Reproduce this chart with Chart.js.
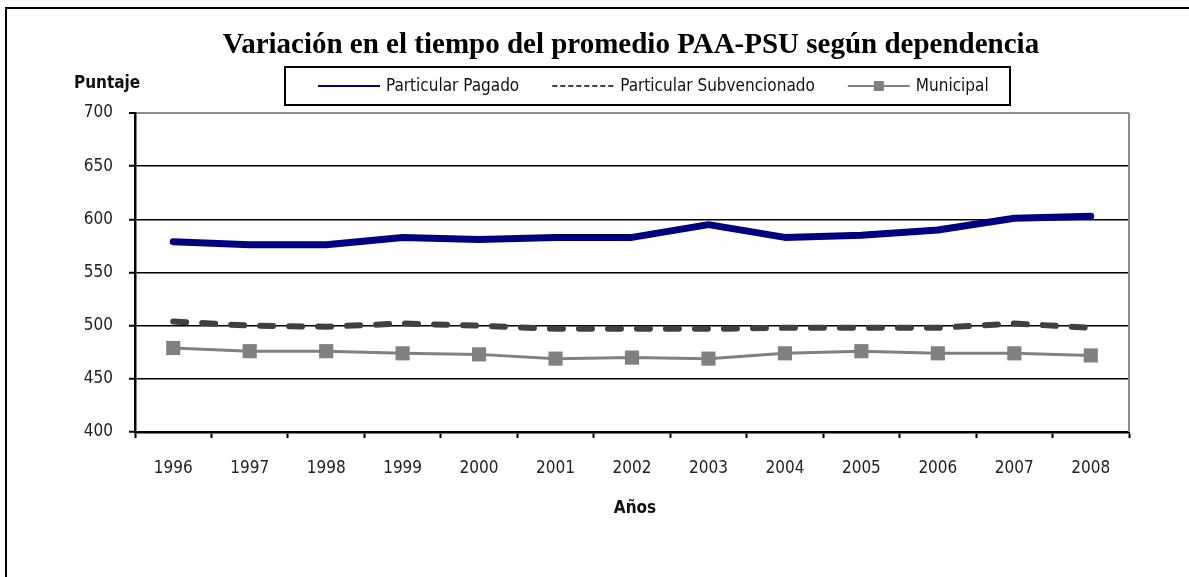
<!DOCTYPE html>
<html lang="es">
<head>
<meta charset="UTF-8" />
<title>Variación en el tiempo del promedio PAA-PSU según dependencia</title>
<script src="https://cdn.jsdelivr.net/npm/chart.js"></script>
<style>
    body { margin: 0; background: #fff; }
    #wrap { width: 1189px; height: 577px; position: relative; }
</style>
</head>
<body>
<div id="wrap"><canvas id="grafico"></canvas></div>
<script>
    // datos
    const anios = ['1996', '1997', '1998', '1999', '2000', '2001', '2002', '2003', '2004', '2005', '2006', '2007', '2008'];
    const particularPagado = [579, 576, 576, 583, 581, 583, 583, 595, 583, 585, 590, 601, 603];
    const particularSubvencionado = [504, 500, 499, 502, 500, 497, 497, 497, 498, 498, 498, 502, 498];
    const municipal = [479, 476, 476, 474, 473, 469, 470, 469, 474, 476, 474, 474, 472];
    const ticksY = [400, 450, 500, 550, 600, 650, 700];

    const titulo = 'Variación en el tiempo del promedio PAA-PSU según dependencia';
    const fuenteNarrow = '"Liberation Sans Narrow", "DejaVu Sans Condensed", "Arial Narrow", sans-serif';

    const decoracion = {
        id: 'decoracion',
        beforeDraw(chart) {
            const ctx = chart.ctx;
            ctx.save();
            ctx.fillStyle = '#fff';
            ctx.fillRect(0, 0, chart.width, chart.height);
            ctx.strokeStyle = '#000';
            ctx.lineWidth = 2;
            ctx.strokeRect(6, 8, chart.width + 20, chart.height + 20);
            ctx.restore();
        },
        beforeDatasetsDraw(chart) {
            const ctx = chart.ctx;
            const a = chart.chartArea;
            ctx.save();
            ctx.strokeStyle = '#8c8c8c';
            ctx.lineWidth = 2;
            ctx.beginPath();
            ctx.moveTo(a.right, a.top);
            ctx.lineTo(a.right, a.bottom);
            ctx.stroke();
            ctx.restore();
        },
        afterDraw(chart) {
            const ctx = chart.ctx;
            const a = chart.chartArea;
            ctx.save();
            // titulo
            ctx.fillStyle = '#000';
            ctx.font = 'bold 29px "Liberation Serif", "Times New Roman", serif';
            ctx.textAlign = 'center';
            ctx.textBaseline = 'middle';
            ctx.fillText(titulo, 631, 46);

            // titulos de ejes
            ctx.font = 'bold 17px ' + fuenteNarrow;
            ctx.fillStyle = '#111';
            ctx.textAlign = 'left';
            ctx.fillText('Puntaje', 74, 84);
            ctx.textAlign = 'center';
            ctx.fillText('Años', (a.left + a.right) / 2 + 3, 509);

            // leyenda
            ctx.fillStyle = '#fff';
            ctx.fillRect(285, 67, 725, 38);
            ctx.strokeStyle = '#000';
            ctx.lineWidth = 2;
            ctx.strokeRect(285, 67, 725, 38);

            ctx.font = '17px ' + fuenteNarrow;
            ctx.textAlign = 'left';
            let x = 318;
            const y = 86;
            chart.data.datasets.forEach(ds => {
                ctx.save();
                ctx.strokeStyle = ds.borderColor;
                ctx.lineWidth = 2;
                if (ds.borderDash) ctx.setLineDash([5, 3]);
                ctx.beginPath();
                ctx.moveTo(x, y);
                ctx.lineTo(x + 62, y);
                ctx.stroke();
                if (ds.pointRadius > 0) {
                    ctx.fillStyle = ds.pointBackgroundColor;
                    ctx.fillRect(x + 26, y - 5, 10, 10);
                }
                ctx.restore();
                ctx.fillStyle = '#111';
                ctx.fillText(ds.label, x + 68, y + 1);
                x += 68 + ctx.measureText(ds.label).width + 33;
            });
            ctx.restore();
        }
    };

    new Chart(document.getElementById('grafico'), {
        type: 'line',
        data: {
            labels: anios,
            datasets: [{
                label: 'Particular Pagado',
                data: particularPagado,
                borderColor: '#000080',
                borderWidth: 7,
                borderCapStyle: 'round',
                borderJoinStyle: 'round',
                pointRadius: 0,
                tension: 0
            }, {
                label: 'Particular Subvencionado',
                data: particularSubvencionado,
                borderColor: '#404040',
                borderWidth: 6,
                borderDash: [13, 16],
                borderCapStyle: 'round',
                borderJoinStyle: 'round',
                pointRadius: 0,
                tension: 0
            }, {
                label: 'Municipal',
                data: municipal,
                borderColor: '#808080',
                borderWidth: 3,
                pointStyle: 'rect',
                pointRadius: 10,
                pointBackgroundColor: '#808080',
                pointBorderColor: '#808080',
                pointBorderWidth: 0,
                tension: 0
            }]
        },
        options: {
            responsive: true,
            maintainAspectRatio: false,
            animation: false,
            events: [],
            layout: { padding: { top: 113, right: 60, left: 0, bottom: 0 } },
            plugins: {
                legend: { display: false },
                title: { display: false },
                tooltip: { enabled: false }
            },
            scales: {
                x: {
                    offset: true,
                    grid: {
                        offset: true,
                        drawOnChartArea: false,
                        drawTicks: true,
                        tickLength: 6,
                        tickColor: '#000',
                        tickWidth: 2
                    },
                    border: { color: '#000', width: 2.5 },
                    ticks: {
                        color: '#222',
                        font: { family: fuenteNarrow, size: 17 },
                        padding: 20,
                        maxRotation: 0,
                        autoSkip: false
                    },
                    afterFit: s => { s.height = 145; }
                },
                y: {
                    min: 400,
                    max: 700,
                    afterBuildTicks: s => { s.ticks = ticksY.map(v => ({ value: v })); },
                    grid: {
                        color: c => c.tick && c.tick.value === 700 ? '#8c8c8c' : '#000',
                        lineWidth: c => c.tick && c.tick.value === 700 ? 2 : 1.5,
                        tickColor: '#000',
                        tickLength: 6,
                        tickWidth: 2
                    },
                    border: { color: '#000', width: 2.5 },
                    ticks: {
                        color: '#222',
                        font: { family: fuenteNarrow, size: 17 },
                        padding: 16
                    },
                    afterFit: s => { s.width = 135; }
                }
            }
        },
        plugins: [decoracion]
    });
</script>
</body>
</html>
